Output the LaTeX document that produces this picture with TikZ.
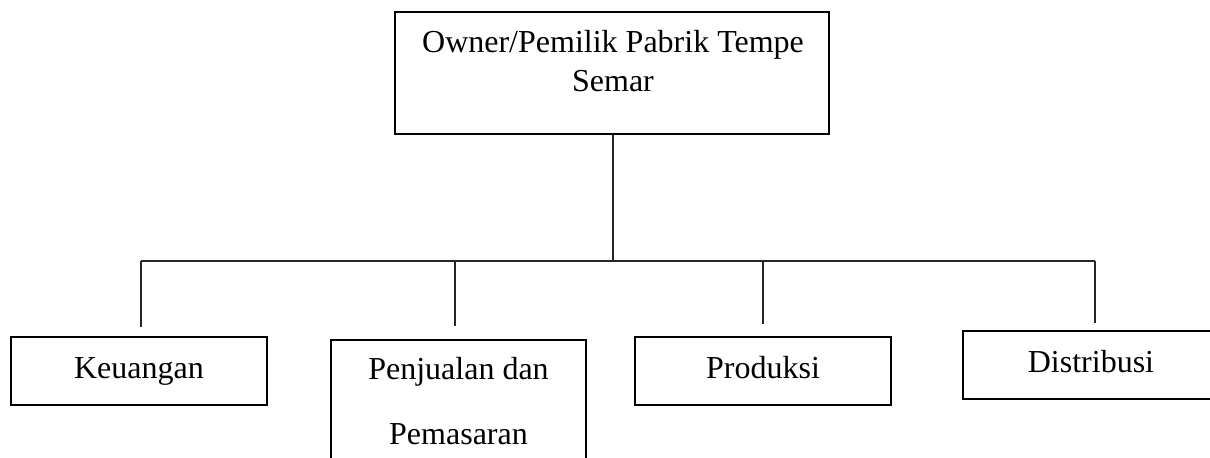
\documentclass[tikz,border=0pt]{standalone}
\usepackage{fontspec}
\setmainfont{Liberation Serif}
\newcommand{\orgFont}{\fontsize{16}{19.5}\selectfont}
\tikzset{
  orgbox/.style={draw, line width=1.2pt, inner sep=0pt, minimum width=128pt, minimum height=34pt, font=\orgFont},
  unitbox/.style={orgbox, text height=11pt, text depth=3.5pt},
  conn/.style={line width=0.6pt, black!85}
}

\begin{document}
\begin{tikzpicture}[x=0.5pt, y=-0.5pt]

		% page
		\useasboundingbox (0,0) rectangle (1210,457);
		\clip (0,0) rectangle (1210,457);

		% owner
		\node[orgbox, minimum width=217pt, minimum height=61pt] (owner) at (612,73) {};
		\node[align=center, inner sep=0pt, font=\orgFont] (ownerlbl) at (613,61.5) {Owner/Pemilik Pabrik Tempe\\Semar};

		% units
		\node[unitbox] (keuangan) at (139,371) {Keuangan};
		\node[orgbox, minimum width=127.5pt, minimum height=61pt, align=center,
		      font=\fontsize{16}{32.5}\selectfont] (penjualan) at (458.5,401) {Penjualan dan\\Pemasaran};
		\node[unitbox] (produksi) at (763,371) {Produksi};
		\node[unitbox] (distribusi) at (1091,365) {Distribusi};

		% drop points, a bit off the box centres
		\coordinate (keuTop) at ([xshift=1pt, yshift=4.5pt]keuangan.north);
		\coordinate (penTop) at ([xshift=-1.75pt, yshift=6.5pt]penjualan.north);
		\coordinate (proTop) at ([yshift=6pt]produksi.north);
		\coordinate (disTop) at ([xshift=2pt, yshift=3.5pt]distribusi.north);

		% bus
		\coordinate (bus) at (613,261);
		\draw[conn] (owner.south -| bus) -- (bus);
		\draw[conn] (keuTop |- bus) -- (disTop |- bus);

		% drops - stop short of the boxes
		\foreach \unit in {keuTop, penTop, proTop, disTop}
			\draw[conn] (\unit |- bus) -- (\unit);

\end{tikzpicture}
\end{document}
